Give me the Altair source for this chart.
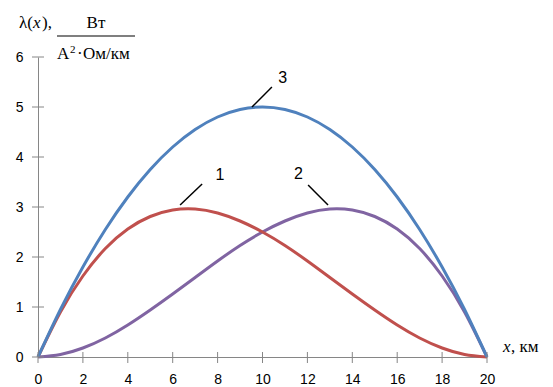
import altair as alt
import pandas as pd

# distance along the line, km
x_km = [0, 1, 2, 3, 4, 5, 6, 7, 8, 9, 10, 11, 12, 13, 14, 15, 16, 17, 18, 19, 20]
# curve 1
curve1 = [0, 0.90, 1.62, 2.17, 2.56, 2.81, 2.94, 2.96, 2.88, 2.72, 2.50,
          2.23, 1.92, 1.59, 1.26, 0.94, 0.64, 0.38, 0.18, 0.05, 0]
# curve 2
curve2 = [0, 0.05, 0.18, 0.38, 0.64, 0.94, 1.26, 1.59, 1.92, 2.23, 2.50,
          2.72, 2.88, 2.96, 2.94, 2.81, 2.56, 2.17, 1.62, 0.90, 0]
# curve 3
curve3 = [0, 0.95, 1.80, 2.55, 3.20, 3.75, 4.20, 4.55, 4.80, 4.95, 5.00,
          4.95, 4.80, 4.55, 4.20, 3.75, 3.20, 2.55, 1.80, 0.95, 0]

x_ticks = [0, 2, 4, 6, 8, 10, 12, 14, 16, 18, 20]
y_ticks = [0, 1, 2, 3, 4, 5, 6]

# curve labels and leader lines (data coordinates)
lab_text = ["1", "2", "3"]
lab_x = [8.1, 11.6, 10.9]
lab_y = [3.64, 3.66, 5.58]
lead_x1 = [6.33, 12.92, 9.53]
lead_y1 = [3.04, 3.04, 5.00]
lead_x2 = [7.31, 12.03, 10.42]
lead_y2 = [3.46, 3.44, 5.40]

RED = "#c0504d"
PURPLE = "#8064a2"
BLUE = "#4f81bd"
GRAY = "#868686"
SERIF = "Liberation Serif"
SANS = "Liberation Sans"

W, H = 449, 300

df = pd.DataFrame({"x": x_km, "c1": curve1, "c2": curve2, "c3": curve3})

xs = alt.Scale(domain=[0, 20], nice=False)
ys = alt.Scale(domain=[0, 6], nice=False)

x_axis = alt.Axis(values=x_ticks, title=None, grid=False, ticks=False,
                  domainColor=GRAY, labelFont=SANS, labelFontSize=14,
                  labelColor="#000000", labelPadding=15, labelFlush=False)
y_axis = alt.Axis(values=y_ticks, title=None, grid=False, ticks=False,
                  domainColor=GRAY, labelFont=SANS, labelFontSize=14,
                  labelColor="#000000", labelPadding=15, labelFlush=False)

base = alt.Chart(df)


def curve(col, color):
    return base.mark_line(color=color, strokeWidth=3, interpolate="natural", clip=False).encode(
        x=alt.X("x:Q", scale=xs, axis=x_axis),
        y=alt.Y(f"{col}:Q", scale=ys, axis=y_axis),
    )


lines = curve("c2", PURPLE) + curve("c1", RED) + curve("c3", BLUE)

ytick_df = pd.DataFrame({"v": y_ticks})
xtick_df = pd.DataFrame({"v": x_ticks})
yticks = alt.Chart(ytick_df).mark_rule(color=GRAY, strokeWidth=1).encode(
    y=alt.Y("v:Q", scale=ys), x=alt.value(-6), x2=alt.value(6))
xticks = alt.Chart(xtick_df).mark_rule(color=GRAY, strokeWidth=1).encode(
    x=alt.X("v:Q", scale=xs), y=alt.value(H - 5), y2=alt.value(H + 6))

lab_df = pd.DataFrame({"t": lab_text, "x": lab_x, "y": lab_y,
                       "x1": lead_x1, "y1": lead_y1, "x2": lead_x2, "y2": lead_y2})
labels = alt.Chart(lab_df).mark_text(font=SANS, fontSize=16, color="#000000").encode(
    x=alt.X("x:Q", scale=xs), y=alt.Y("y:Q", scale=ys), text="t:N")
leaders = alt.Chart(lab_df).mark_rule(color="#000000", strokeWidth=1.5).encode(
    x=alt.X("x1:Q", scale=xs), y=alt.Y("y1:Q", scale=ys),
    x2="x2:Q", y2="y2:Q")

one = pd.DataFrame({"a": [0]})


def txt(s, x, y, italic=False, align="left", font=SERIF, size=17):
    kw = dict(font=font, fontSize=size, color="#000000", align=align, baseline="alphabetic",
              text=s)
    if italic:
        kw["fontStyle"] = "italic"
    return alt.Chart(one).mark_text(**kw).encode(x=alt.value(x), y=alt.value(y))


title = (
    txt("λ(", -5, -29, align="right")
    + txt("x", -5, -29, italic=True)
    + txt("),", 4, -29)
    + txt("Вт", 58, -29, align="center")
    + txt("А", 19, 2, size=17)
    + txt("2", 32, -4, size=11)
    + txt("·", 39, 2, size=17)
    + txt("Ом/км", 45, 2, size=17)
    + alt.Chart(one).mark_rule(color="#000000", strokeWidth=1.2).encode(
        x=alt.value(19), x2=alt.value(97), y=alt.value(-21))
    + txt("x", 465, 295, italic=True)
    + txt(", км", 473, 295)
)

chart = (
    alt.layer(lines, yticks, xticks, leaders, labels, title)
    .properties(width=W, height=H,
                autosize=alt.AutoSizeParams(type="none"),
                padding={"left": 30, "top": 49, "right": 58, "bottom": 30})
    .configure_view(stroke=None)
)

chart.save("out.html", embed_options={"renderer": "svg", "actions": False})
